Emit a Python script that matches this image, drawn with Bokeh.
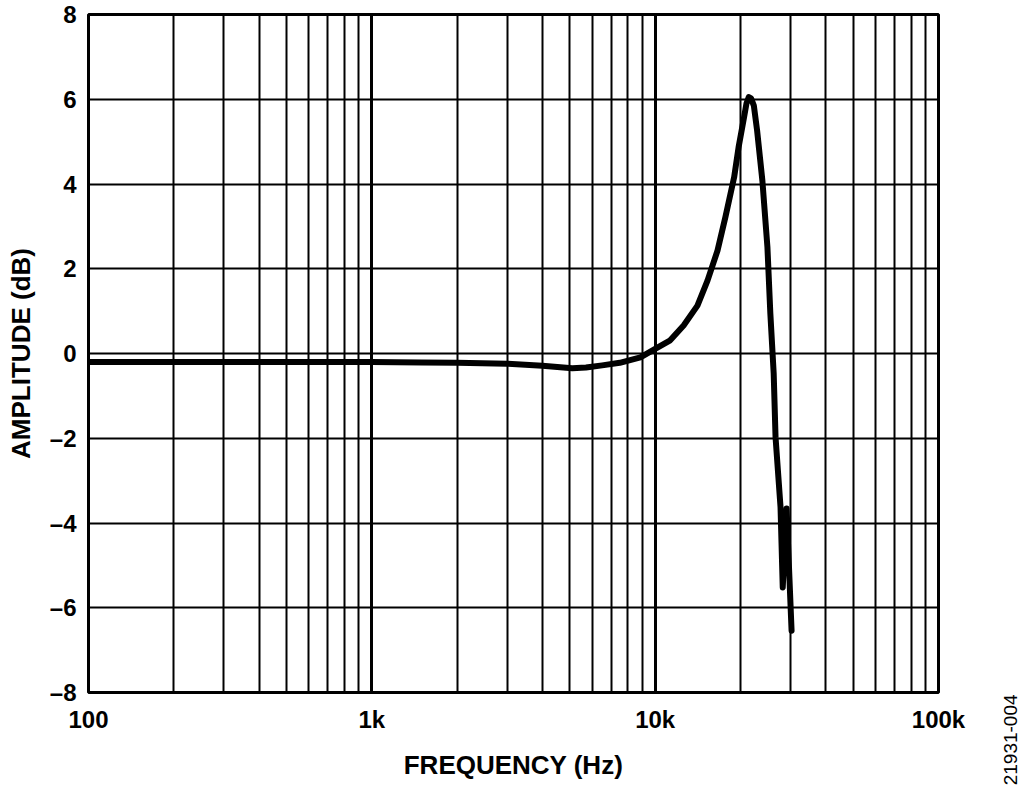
from bokeh.plotting import figure
from bokeh.models import Range1d, FixedTicker, Label
from bokeh.embed import file_html
from bokeh.resources import INLINE

# Data
freq_hz = [100, 150, 200, 300, 500, 700, 1000, 1500, 2000, 3000, 4000,
           5100, 5700, 6500, 7500, 8870, 10000, 11300, 12600, 14100,
           15300, 16600, 17700, 19000, 19700, 20600, 21000, 21400, 21800,
           22300, 22900, 23900, 24900, 25500, 26200, 26600, 27700, 28200,
           29100, 30300]
amp_db = [-0.2, -0.2, -0.2, -0.2, -0.2, -0.2, -0.2, -0.21, -0.22, -0.24, -0.29,
          -0.35, -0.33, -0.28, -0.22, -0.09, 0.11, 0.31, 0.66, 1.13,
          1.72, 2.43, 3.22, 4.16, 4.87, 5.58, 5.9, 6.05, 6.02,
          5.85, 5.26, 4.08, 2.51, 0.94, -0.47, -1.98, -3.63, -5.52,
          -3.66, -6.54]

x_major = [100, 1000, 10000, 100000]
x_labels = ["100", "1k", "10k", "100k"]
x_minor = [m * d for d in [100, 1000, 10000] for m in range(2, 10)]
y_ticks = [-8, -6, -4, -2, 0, 2, 4, 6, 8]
y_labels = ["–8", "–6", "–4", "–2", "0", "2", "4", "6", "8"]
figure_code = "21931-004"

FONT = "Liberation Sans"

p = figure(width=1024, height=788, x_axis_type="log",
           x_range=Range1d(100, 100000), y_range=Range1d(-8, 8),
           output_backend="svg", toolbar_location=None,
           min_border_left=88, min_border_right=86,
           min_border_top=14, min_border_bottom=96)

p.background_fill_color = "white"
p.border_fill_color = "white"
p.outline_line_color = "black"
p.outline_line_width = 3

p.xaxis.ticker = FixedTicker(ticks=x_major, minor_ticks=x_minor)
p.xaxis.major_label_overrides = {t: l for t, l in zip(x_major, x_labels)}
p.yaxis.ticker = FixedTicker(ticks=y_ticks)
p.yaxis.major_label_overrides = {t: l for t, l in zip(y_ticks, y_labels)}

for ax in (p.xaxis[0], p.yaxis[0]):
    ax.axis_line_color = None
    ax.major_tick_line_color = None
    ax.minor_tick_line_color = None
    ax.major_tick_out = 0
    ax.major_tick_in = 0
    ax.minor_tick_out = 0
    ax.minor_tick_in = 0
    ax.major_label_text_font = FONT
    ax.major_label_text_font_style = "bold"
    ax.major_label_text_font_size = "24px"
    ax.major_label_text_color = "black"
    ax.axis_label_text_font = FONT
    ax.axis_label_text_font_style = "bold"
    ax.axis_label_text_font_size = "26px"
    ax.axis_label_text_color = "black"

p.xaxis.axis_label = "FREQUENCY (Hz)"
p.yaxis.axis_label = "AMPLITUDE (dB)"
p.xaxis.major_label_standoff = 13
p.yaxis.major_label_standoff = 12
p.xaxis.axis_label_standoff = 14
p.yaxis.axis_label_standoff = 11

p.xgrid.grid_line_color = "black"
p.xgrid.grid_line_width = 3
p.xgrid.grid_line_alpha = 1
p.xgrid.minor_grid_line_color = "black"
p.xgrid.minor_grid_line_width = 2
p.ygrid.grid_line_color = "black"
p.ygrid.grid_line_width = 2
p.ygrid.grid_line_alpha = 1

p.line(freq_hz, amp_db, line_color="black", line_width=6,
       line_join="round", line_cap="round")

p.add_layout(Label(x=179600, y=-10.19, text=figure_code, angle=1.5708,
                   angle_units="rad", text_align="left", text_baseline="middle",
                   text_font=FONT, text_font_size="19px", text_color="black"),
             "right")

open("out.html", "w").write(file_html(p, INLINE))
